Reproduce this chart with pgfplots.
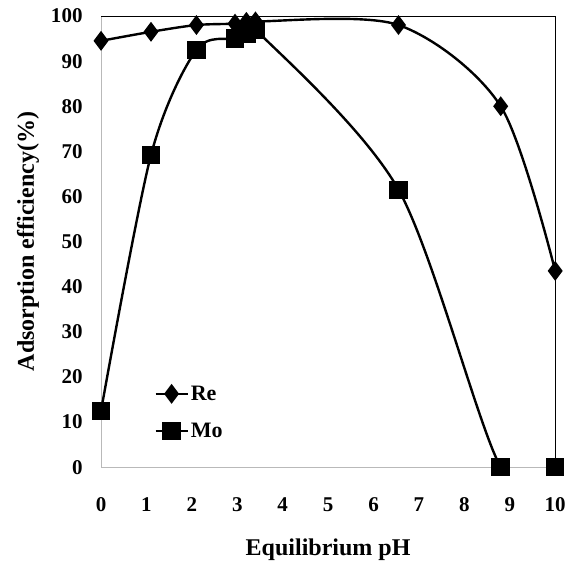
\documentclass[border=0pt]{standalone}
\usepackage{fontspec}
\setmainfont{Liberation Serif}
\usepackage{pgfplots}
\pgfplotsset{compat=1.18}

\pgfplotstableread{
x y
0 94.5
1.1 96.5
2.1 98
2.95 98.3
3.2 98.7
3.4 98.8
6.55 98
8.8 80
10 43.5
}\retable

\pgfplotstableread{
x y
0 12.5
1.1 69.2
2.1 92.5
2.95 95
3.2 96
3.4 97
6.55 61.5
8.8 0
10 0
}\motable

\begin{document}
\begin{tikzpicture}
\begin{axis}[
    scale only axis,
    width=454pt, height=451pt,
    xmin=0, xmax=10, ymin=0, ymax=100,
    xtick={0,1,...,10}, ytick={0,10,...,100},
    axis x line*=bottom, axis y line*=left,
    axis line style={gray!55, line width=0.8pt},
    major tick length=0pt,
    /pgf/number format/assume math mode=true,
    tick label style={font=\fontsize{21}{24}\selectfont\bfseries},
    xticklabel style={yshift=-27pt},
    yticklabel style={xshift=-15pt},
    xlabel={Equilibrium pH},
    ylabel={Adsorption efficiency(\%)},
    label style={font=\fontsize{24}{28}\selectfont\bfseries},
    xlabel style={at={(axis description cs:0.5,-0.182)}, anchor=center},
    ylabel style={at={(axis description cs:-0.161,0.5)}, anchor=center},
    legend style={draw=none, fill=none, at={(axis description cs:0.117,0.185)}, anchor=north west,
        font=\fontsize{22}{24}\selectfont\bfseries, row sep=17pt, inner sep=0pt},
    legend cell align=left,
    legend image code/.code={\draw[mark repeat=2,mark phase=2] plot coordinates {(0pt,0pt) (16pt,0pt) (32pt,0pt)};},
]
\addplot[black, line width=2.4pt, smooth, mark=diamond*, mark size=8pt, mark options={solid}] table {\retable};
\addplot[black, line width=2.4pt, smooth, mark=square*, mark size=8pt, mark options={solid}] table {\motable};
\legend{Re, Mo}
\coordinate (bl) at (axis description cs:-0.2225,-0.2195);
\coordinate (tr) at (axis description cs:1.026,1.0355);
\coordinate (ftl) at (rel axis cs:0,1);
\coordinate (ftr) at (rel axis cs:1,1);
\coordinate (fbr) at (rel axis cs:1,0);
\end{axis}
\draw[black, line width=1pt] (ftl) -- (ftr) -- (fbr);
\pgfresetboundingbox
\path (bl) rectangle (tr);
\end{tikzpicture}
\end{document}
